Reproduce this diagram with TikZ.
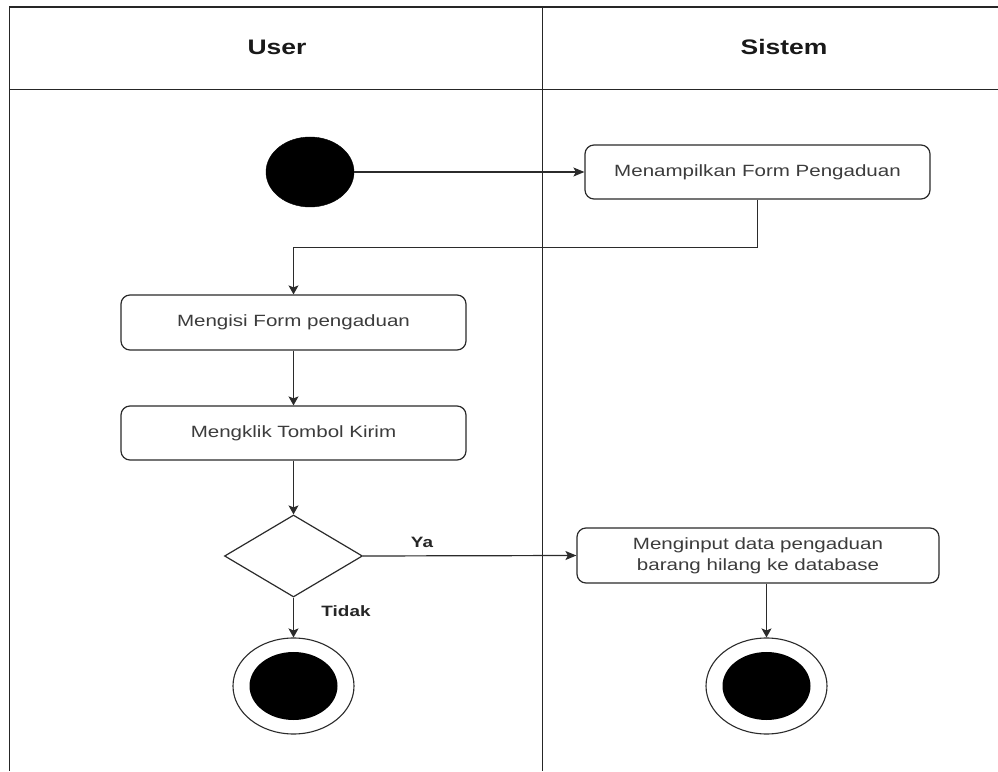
\documentclass[tikz,border=0pt]{standalone}
\usepackage{fontspec}
\usetikzlibrary{shapes.geometric,arrows.meta}
\newfontfamily\boxfont[FakeStretch=1.26]{Liberation Sans}
\definecolor{edge}{HTML}{2B2B2B}
\definecolor{txt}{HTML}{3C3C3C}
\tikzset{
  x=1pt, y=1pt,
  lane/.style={line width=1.6pt, draw=black!85},
  action/.style={draw=edge, line width=1.2pt, rounded corners=9pt, fill=white,
    align=center, inner sep=0pt, text=txt,
    font=\boxfont\fontsize{16.3}{21}\selectfont},
  startnode/.style={ellipse, fill=black, draw=black, inner sep=0pt,
    minimum width=88pt, minimum height=70pt},
  endouter/.style={ellipse, draw=edge, line width=1.1pt, fill=white, inner sep=0pt,
    minimum width=121pt, minimum height=96pt},
  endinner/.style={ellipse, fill=black, inner sep=0pt,
    minimum width=88pt, minimum height=68pt},
  decision/.style={diamond, draw=edge, line width=1.2pt, inner sep=0pt,
    minimum width=138pt, minimum height=82pt},
  lanetitle/.style={text=black!90, font=\boxfont\bfseries\fontsize{21}{25}\selectfont},
  guard/.style={text=black!85, font=\boxfont\bfseries\fontsize{15}{18}\selectfont},
  flowh/.style={draw=edge, line width=1.2pt, -{Stealth[length=11pt,width=9pt,inset=2.5pt]}},
  flowv/.style={draw=edge, line width=1.2pt, -{Stealth[length=9pt,width=10pt,inset=2pt]}},
}
\begin{document}
\begin{tikzpicture}
\useasboundingbox (0,0) rectangle (998,771);
\fill[white] (0,0) rectangle (998,771);

% swimlane frame
\draw[lane] (998,763.7) -- (9.5,763.7) -- (9.5,0);
\draw[lane] (9.5,681.5) -- (998,681.5);
\draw[lane] (542.3,763.7) -- (542.3,0);
\node[lanetitle] (user) at (277,724) {User};
\node[lanetitle] (sistem) at (784,724) {Sistem};

% activities
\node[startnode] (start) at (310,599) {};
\node[action, minimum width=345pt, minimum height=54pt] (tampil) at (757.5,599) {Menampilkan Form Pengaduan};
\node[action, minimum width=345pt, minimum height=55pt] (isi) at (293.5,448.5) {Mengisi Form pengaduan};
\node[action, minimum width=345pt, minimum height=54pt] (klik) at (293.5,338) {Mengklik Tombol Kirim};
\node[decision] (cek) at (293.5,215) {};
\node[action, minimum width=362pt, minimum height=55pt] (input) at (758,215.5) {Menginput data pengaduan\\ barang hilang ke database};
\node[endouter] (akhir1) at (293.5,85) {};
\node[endinner] (akhir1in) at (293.5,85) {};
\node[endouter] (akhir2) at (766.5,85) {};
\node[endinner] (akhir2in) at (766.5,85) {};

% flows
\draw[flowh] (start.east) -- (tampil.west);
\draw[flowv] (tampil.south) -- ++(0,-47.7) -| (isi.north);
\draw[flowv] (isi.south) -- (klik.north);
\draw[flowv] (klik.south) -- (cek.north);
\draw[flowh] (cek.east) -- (input.west);
\node[guard] (ya) at (422,229) {Ya};
\draw[flowv] (cek.south) -- (akhir1.north);
\node[guard] (tidak) at (346,160) {Tidak};
\draw[flowv] (akhir2.north |- input.south) -- (akhir2.north);
\end{tikzpicture}
\end{document}
